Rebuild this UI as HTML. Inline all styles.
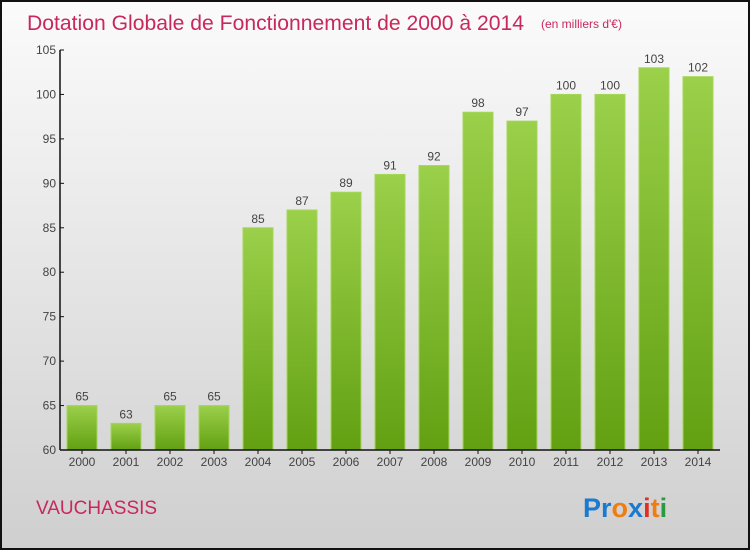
<!DOCTYPE html>
<html><head><meta charset="utf-8"><style>
body{margin:0;width:750px;height:550px;overflow:hidden}
svg{display:block;font-family:"Liberation Sans",sans-serif}
</style></head><body>
<svg id="c" width="750" height="550">
<defs>
<linearGradient id="bg" x1="0" y1="0" x2="0" y2="1"><stop offset="0" stop-color="#fbfbfb"/><stop offset="1" stop-color="#cfcfcf"/></linearGradient>
<linearGradient id="bar" x1="0" y1="0" x2="0" y2="1"><stop offset="0" stop-color="#9bd04a"/><stop offset="1" stop-color="#62a012"/></linearGradient>
</defs>
<rect x="1" y="1" width="748" height="548" fill="url(#bg)" stroke="#111" stroke-width="2"/>
<text x="27" y="30" font-size="21" fill="#c8285c" textLength="497" lengthAdjust="spacingAndGlyphs">Dotation Globale de Fonctionnement de 2000 à 2014</text>
<text x="541" y="28" font-size="12" fill="#c8285c">(en milliers d'€)</text>
<text x="36" y="514" font-size="19" fill="#c8285c">VAUCHASSIS</text>
<text x="583" y="517" font-size="27" font-weight="bold"><tspan fill="#1a7ad0">Pr</tspan><tspan fill="#f07d10">o</tspan><tspan fill="#1a7ad0">x</tspan><tspan fill="#e03020">i</tspan><tspan fill="#f07d10">t</tspan><tspan fill="#2a9a40">i</tspan></text>
<g id="plot"></g>
</svg>
<script>
const years=["2000","2001","2002","2003","2004","2005","2006","2007","2008","2009","2010","2011","2012","2013","2014"];
const values=[65,63,65,65,85,87,89,91,92,98,97,100,100,103,102];
const yTicks=[60,65,70,75,80,85,90,95,100,105];
const NS="http://www.w3.org/2000/svg";
const g=document.getElementById('plot');
const y=v=>450-(v-60)*400/45;
const x=i=>82+44*i;
function mk(t,a,txt){const e=document.createElementNS(NS,t);for(const k in a)e.setAttribute(k,a[k]);if(txt!=null)e.textContent=txt;g.appendChild(e);return e;}
values.forEach((v,i)=>{
 const r=mk('rect',{x:x(i)-15,y:y(v),width:30,height:450-y(v),fill:'url(#bar)',stroke:'#a5d65a','stroke-width':1});
 
 
 const l=mk('text',{x:x(i),y:y(v)-5,'text-anchor':'middle','font-size':12,fill:'#444'},v);
 
 
 const t=mk('text',{x:x(i),y:466,'text-anchor':'middle','font-size':12,fill:'#444'},years[i]);
 
 
 mk('line',{x1:x(i),x2:x(i),y1:450,y2:454,stroke:'#111'});
});
yTicks.forEach(v=>{
 const t=mk('text',{x:56,y:y(v)+4,'text-anchor':'end','font-size':12,fill:'#444'},v);
 
 
 mk('line',{x1:60,x2:64,y1:y(v),y2:y(v),stroke:'#111'});
});
const ya=mk('line',{x1:60,x2:60,y1:50,y2:450,stroke:'#111','stroke-width':1.5});


const xa=mk('line',{x1:60,x2:720,y1:450,y2:450,stroke:'#111','stroke-width':1.5});


</script>
</body></html>
